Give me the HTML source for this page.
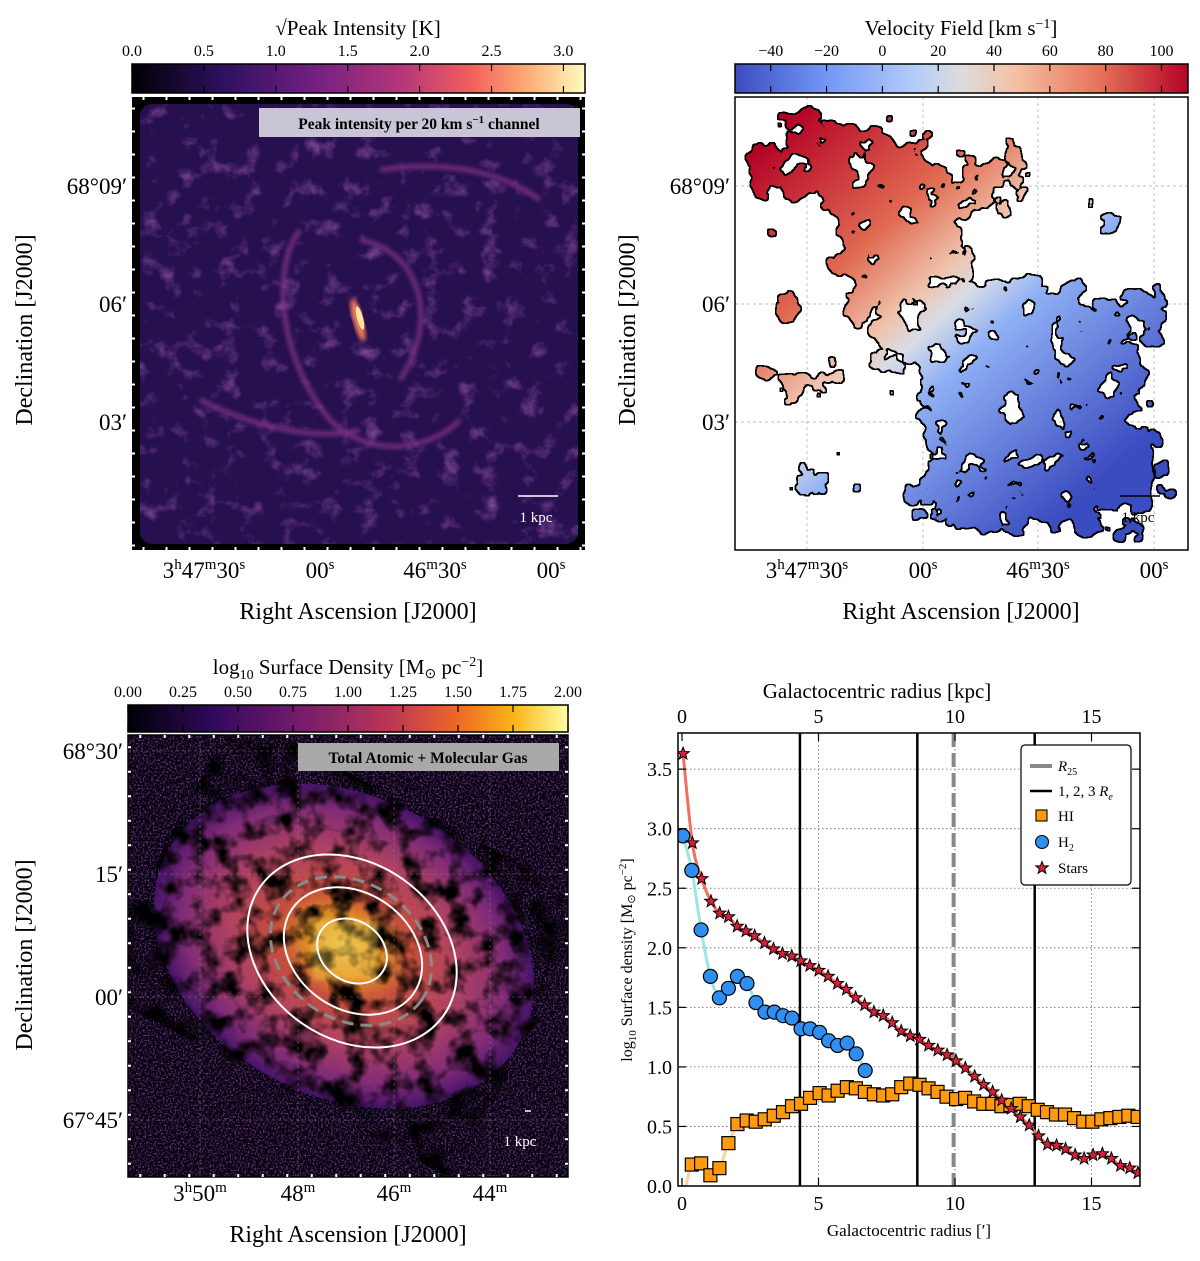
<!DOCTYPE html>
<html><head><meta charset="utf-8">
<style>
html,body{margin:0;padding:0;background:#fff;}
svg{display:block;font-family:"Liberation Serif",serif;}
</style></head>
<body>
<svg id="fig" width="1200" height="1261" viewBox="0 0 1200 1261" xmlns="http://www.w3.org/2000/svg">
<defs>
  <linearGradient id="magma" x1="0" x2="1" y1="0" y2="0">
    <stop offset="0" stop-color="#000004"/><stop offset="0.2" stop-color="#2c115f"/>
    <stop offset="0.4" stop-color="#721f81"/><stop offset="0.6" stop-color="#b73779"/>
    <stop offset="0.75" stop-color="#f1605d"/><stop offset="0.88" stop-color="#feb078"/>
    <stop offset="1" stop-color="#fcfdbf"/>
  </linearGradient>
  <linearGradient id="inferno" x1="0" x2="1" y1="0" y2="0">
    <stop offset="0" stop-color="#000004"/><stop offset="0.2" stop-color="#320a5e"/>
    <stop offset="0.4" stop-color="#781c6d"/><stop offset="0.6" stop-color="#bc3754"/>
    <stop offset="0.75" stop-color="#ed6925"/><stop offset="0.88" stop-color="#fbb61a"/>
    <stop offset="1" stop-color="#fcffa4"/>
  </linearGradient>
  <linearGradient id="coolwarm" x1="0" x2="1" y1="0" y2="0">
    <stop offset="0" stop-color="#3b4cc0"/><stop offset="0.2" stop-color="#7396f5"/>
    <stop offset="0.4" stop-color="#b4cdfa"/><stop offset="0.5" stop-color="#dddcdc"/>
    <stop offset="0.62" stop-color="#f4c0a4"/><stop offset="0.8" stop-color="#e7745b"/>
    <stop offset="1" stop-color="#b40426"/>
  </linearGradient>
  <linearGradient id="velgrad" gradientUnits="userSpaceOnUse" x1="780" y1="130" x2="1100" y2="480">
    <stop offset="0" stop-color="#b40426"/><stop offset="0.3" stop-color="#e16a52"/>
    <stop offset="0.45" stop-color="#f0c2ab"/><stop offset="0.52" stop-color="#d8dce6"/>
    <stop offset="0.62" stop-color="#8fb0f5"/><stop offset="1" stop-color="#3b4cc0"/>
  </linearGradient>
  <radialGradient id="discgrad" cx="0.5" cy="0.5" r="0.5">
    <stop offset="0" stop-color="#fcd050"/><stop offset="0.2" stop-color="#f59a25"/>
    <stop offset="0.35" stop-color="#d8553e"/><stop offset="0.6" stop-color="#c04868"/>
    <stop offset="0.85" stop-color="#8c2f80"/><stop offset="1" stop-color="#4a1470"/>
  </radialGradient>
  <filter id="shape" x="735" y="97" width="453" height="453" filterUnits="userSpaceOnUse">
    <feGaussianBlur in="SourceAlpha" stdDeviation="16" result="ra"/>
    <feTurbulence type="fractalNoise" baseFrequency="0.04" numOctaves="3" seed="5" result="t"/>
    <feColorMatrix in="t" type="matrix" values="0 0 0 0 0 0 0 0 0 0 0 0 0 0 0 1.6 0 0 0 -0.3" result="na"/>
    <feComposite in="na" in2="ra" operator="arithmetic" k1="0" k2="1" k3="1" k4="-0.78" result="sum"/>
    <feComponentTransfer in="sum" result="m"><feFuncA type="discrete" tableValues="0 1"/></feComponentTransfer>
    <feFlood flood-color="#fff"/><feComposite in2="m" operator="in"/>
  </filter>
  <filter id="shapeDil" x="735" y="97" width="453" height="453" filterUnits="userSpaceOnUse">
    <feGaussianBlur in="SourceAlpha" stdDeviation="16" result="ra"/>
    <feTurbulence type="fractalNoise" baseFrequency="0.04" numOctaves="3" seed="5" result="t"/>
    <feColorMatrix in="t" type="matrix" values="0 0 0 0 0 0 0 0 0 0 0 0 0 0 0 1.6 0 0 0 -0.3" result="na"/>
    <feComposite in="na" in2="ra" operator="arithmetic" k1="0" k2="1" k3="1" k4="-0.78" result="sum"/>
    <feComponentTransfer in="sum" result="m0"><feFuncA type="discrete" tableValues="0 1"/></feComponentTransfer>
    <feMorphology in="m0" operator="dilate" radius="1.3" result="m"/>
    <feFlood flood-color="#fff"/><feComposite in2="m" operator="in"/>
  </filter>
  <filter id="filaments" x="0" y="0" width="1" height="1">
    <feTurbulence type="fractalNoise" baseFrequency="0.05" numOctaves="4" seed="11" result="t"/>
    <feColorMatrix in="t" type="matrix" values="0 0 0 0 0.5 0 0 0 0 0.15 0 0 0 0 0.6 2.6 0 0 0 -1.45"/>
  </filter>
  <filter id="holes" x="0" y="0" width="1" height="1">
    <feTurbulence type="fractalNoise" baseFrequency="0.045" numOctaves="3" seed="21" result="t"/>
    <feColorMatrix in="t" type="matrix" values="0 0 0 0 0 0 0 0 0 0 0 0 0 0 0 3.2 0 0 0 -1.35"/>
  </filter>
  <filter id="speck" x="0" y="0" width="1" height="1">
    <feTurbulence type="fractalNoise" baseFrequency="0.6" numOctaves="1" seed="3" result="t"/>
    <feColorMatrix in="t" type="matrix" values="0 0 0 0 0.35 0 0 0 0 0.08 0 0 0 0 0.45 3 0 0 0 -1.4"/>
  </filter>
  <filter id="soft"><feGaussianBlur stdDeviation="2"/></filter>
  <g id="velregions">
      <ellipse cx="830" cy="160" rx="95" ry="50" fill="#fff"/>
      <ellipse cx="900" cy="250" rx="70" ry="120" fill="#fff"/>
      <ellipse cx="1030" cy="380" rx="130" ry="110" fill="#fff"/>
      <ellipse cx="1100" cy="480" rx="80" ry="60" fill="#fff"/>
      <ellipse cx="990" cy="500" rx="90" ry="45" fill="#fff"/>
      <ellipse cx="800" cy="380" rx="55" ry="25" fill="#fff"/>
      <ellipse cx="1000" cy="180" rx="40" ry="35" fill="#fff"/>
      <ellipse cx="790" cy="300" rx="25" ry="20" fill="#fff"/>
      <ellipse cx="820" cy="480" rx="40" ry="25" fill="#fff"/>
      <ellipse cx="1150" cy="300" rx="25" ry="40" fill="#fff"/>
      <ellipse cx="1100" cy="210" rx="25" ry="25" fill="#fff"/>
      <ellipse cx="760" cy="230" rx="18" ry="18" fill="#fff"/>
  </g>
  <mask id="velmask" maskUnits="userSpaceOnUse" x="735" y="97" width="453" height="453">
    <g filter="url(#shape)"><use href="#velregions"/></g>
  </mask>
  <mask id="velmaskDil" maskUnits="userSpaceOnUse" x="735" y="97" width="453" height="453">
    <g filter="url(#shapeDil)"><use href="#velregions"/></g>
  </mask>
  <clipPath id="clip1"><rect x="132" y="97" width="453" height="453"/></clipPath>
  <clipPath id="clip3"><rect x="128" y="735" width="440" height="442"/></clipPath>
  <clipPath id="clip4"><rect x="678" y="733" width="462" height="453"/></clipPath>
</defs>

<!-- ================= PANEL 1 ================= -->
<g>
  <text x="358" y="35" font-size="21" text-anchor="middle">√Peak Intensity [K]</text>
  <rect x="132" y="64" width="453" height="29" fill="url(#magma)" stroke="#000" stroke-width="1.5"/>
  <g id="cb1ticks" font-size="16" text-anchor="middle"></g>
  <rect x="132" y="97" width="453" height="453" fill="#000"/>
  <g clip-path="url(#clip1)">
    <rect x="140" y="104" width="438" height="440" rx="12" fill="#26104f"/>
    <rect x="140" y="104" width="438" height="440" rx="12" filter="url(#filaments)" opacity="0.6"/>
    <g fill="none" stroke="#a3409a" stroke-width="5" opacity="0.6" filter="url(#soft)">
      <path d="M300,230 C270,270 280,360 330,420 C370,460 430,450 460,420"/>
      <path d="M360,240 C420,250 440,320 400,380"/>
      <path d="M200,400 C260,430 320,440 360,430"/>
      <path d="M380,170 C440,160 500,170 540,200"/>
    </g>
    <ellipse cx="358" cy="320" rx="5" ry="22" fill="#f07a5a" transform="rotate(-15 358 320)" filter="url(#soft)"/>
    <ellipse cx="360" cy="318" rx="3" ry="12" fill="#fde8a0" transform="rotate(-15 360 318)"/>
    <rect x="259" y="108" width="321" height="29" fill="#c9c5d5"/>
    <text x="419" y="129" font-size="15.5" font-weight="bold" text-anchor="middle">Peak intensity per 20 km s<tspan dy="-6" font-size="11">−1</tspan><tspan dy="6"> channel</tspan></text>
    <line x1="518" y1="496" x2="558" y2="496" stroke="#fff" stroke-width="1.5"/>
    <text x="536" y="522" font-size="15" fill="#fff" text-anchor="middle">1 kpc</text>
  </g>
  <g id="m1ticks"></g>
  <g font-size="23" text-anchor="end">
    <text x="127" y="194">68°09′</text>
    <text x="127" y="312">06′</text>
    <text x="127" y="430">03′</text>
  </g>
  <g font-size="23" text-anchor="middle">
    <text x="204" y="578">3<tspan font-size="15" dy="-9">h</tspan><tspan dy="9">47</tspan><tspan font-size="15" dy="-9">m</tspan><tspan dy="9">30</tspan><tspan font-size="15" dy="-9">s</tspan></text>
    <text x="320" y="578">00<tspan font-size="15" dy="-9">s</tspan></text>
    <text x="435" y="578">46<tspan font-size="15" dy="-9">m</tspan><tspan dy="9">30</tspan><tspan font-size="15" dy="-9">s</tspan></text>
    <text x="551" y="578">00<tspan font-size="15" dy="-9">s</tspan></text>
  </g>
  <text x="358" y="619" font-size="24" text-anchor="middle">Right Ascension [J2000]</text>
  <text transform="translate(32 330) rotate(-90)" font-size="24" text-anchor="middle">Declination [J2000]</text>
</g>

<!-- ================= PANEL 2 ================= -->
<g>
  <text x="961" y="35" font-size="21" text-anchor="middle">Velocity Field [km s<tspan dy="-7" font-size="14">−1</tspan><tspan dy="7">]</tspan></text>
  <rect x="735" y="64" width="453" height="29" fill="url(#coolwarm)" stroke="#000" stroke-width="1.5"/>
  <g id="cb2ticks" font-size="16" text-anchor="middle"></g>
  <rect x="735" y="97" width="453" height="453" fill="#fff"/>
  <g id="velgrid" stroke="#aaa" stroke-width="0.7" stroke-dasharray="3,3"></g>
  <g>
    <rect x="735" y="97" width="453" height="453" fill="#000" mask="url(#velmaskDil)"/>
    <rect x="735" y="97" width="453" height="453" fill="url(#velgrad)" mask="url(#velmask)"/>
  </g>
  <line x1="1120" y1="496" x2="1160" y2="496" stroke="#000" stroke-width="1.5"/>
  <text x="1138" y="522" font-size="15" text-anchor="middle">1 kpc</text>
  <rect x="735" y="97" width="453" height="453" fill="none" stroke="#000" stroke-width="1.5"/>
  <g font-size="23" text-anchor="end">
    <text x="730" y="194">68°09′</text>
    <text x="730" y="312">06′</text>
    <text x="730" y="430">03′</text>
  </g>
  <g font-size="23" text-anchor="middle">
    <text x="807" y="578">3<tspan font-size="15" dy="-9">h</tspan><tspan dy="9">47</tspan><tspan font-size="15" dy="-9">m</tspan><tspan dy="9">30</tspan><tspan font-size="15" dy="-9">s</tspan></text>
    <text x="923" y="578">00<tspan font-size="15" dy="-9">s</tspan></text>
    <text x="1038" y="578">46<tspan font-size="15" dy="-9">m</tspan><tspan dy="9">30</tspan><tspan font-size="15" dy="-9">s</tspan></text>
    <text x="1154" y="578">00<tspan font-size="15" dy="-9">s</tspan></text>
  </g>
  <text x="961" y="619" font-size="24" text-anchor="middle">Right Ascension [J2000]</text>
  <text transform="translate(635 330) rotate(-90)" font-size="24" text-anchor="middle">Declination [J2000]</text>
</g>

<!-- ================= PANEL 3 ================= -->
<g>
  <text x="348" y="674" font-size="21" text-anchor="middle">log<tspan font-size="14" dy="5">10</tspan><tspan dy="-5"> Surface Density [M</tspan><tspan font-size="14" dy="4">⊙</tspan><tspan dy="-4"> pc</tspan><tspan font-size="14" dy="-8">−2</tspan><tspan dy="8">]</tspan></text>
  <rect x="128" y="705" width="440" height="27" fill="url(#inferno)" stroke="#000" stroke-width="1.5"/>
  <g id="cb3ticks" font-size="16" text-anchor="middle"></g>
  <g clip-path="url(#clip3)">
    <rect x="128" y="735" width="440" height="442" fill="#05010f"/>
    <rect x="128" y="735" width="440" height="442" filter="url(#speck)" opacity="0.8"/>
    <ellipse cx="344" cy="946" rx="200" ry="150" fill="url(#discgrad)" transform="rotate(28 344 946)" opacity="0.9"/>
    <g transform="rotate(28 344 946)">
      <ellipse cx="344" cy="946" rx="205" ry="155" filter="url(#holes)"/>
    </g>
    <rect x="312" y="920" width="66" height="60" fill="#fcd858" opacity="0.35" filter="url(#soft)"/>
    <g id="gasgrid" stroke="#888" stroke-width="0.6" stroke-dasharray="3,3" opacity="0.8"></g>
    <ellipse cx="352" cy="951" rx="112" ry="88" fill="none" stroke="#fff" stroke-width="2" transform="rotate(35 352 951)"/>
    <ellipse cx="351" cy="951" rx="86" ry="68" fill="none" stroke="#8a8a8a" stroke-width="3" stroke-dasharray="12,7" transform="rotate(35 351 951)"/>
    <ellipse cx="353" cy="951" rx="74" ry="58" fill="none" stroke="#fff" stroke-width="2" transform="rotate(35 353 951)"/>
    <ellipse cx="352" cy="951" rx="37" ry="30" fill="none" stroke="#fff" stroke-width="2" transform="rotate(35 352 951)"/>
    <rect x="298" y="743" width="261" height="28" fill="#a9a9a9"/>
    <text x="428" y="763" font-size="15.5" font-weight="bold" text-anchor="middle">Total Atomic + Molecular Gas</text>
    <line x1="525" y1="1111" x2="531" y2="1111" stroke="#fff" stroke-width="1.5"/>
    <text x="520" y="1146" font-size="15" fill="#fff" text-anchor="middle">1 kpc</text>
  </g>
  <rect x="128" y="735" width="440" height="442" fill="none" stroke="#000" stroke-width="1.5"/>
  <g id="m3ticks"></g>
  <g font-size="23" text-anchor="end">
    <text x="123" y="759">68°30′</text>
    <text x="123" y="882">15′</text>
    <text x="123" y="1005">00′</text>
    <text x="123" y="1128">67°45′</text>
  </g>
  <g font-size="23" text-anchor="middle">
    <text x="200" y="1201">3<tspan font-size="15" dy="-9">h</tspan><tspan dy="9">50</tspan><tspan font-size="15" dy="-9">m</tspan></text>
    <text x="298" y="1201">48<tspan font-size="15" dy="-9">m</tspan></text>
    <text x="394" y="1201">46<tspan font-size="15" dy="-9">m</tspan></text>
    <text x="490" y="1201">44<tspan font-size="15" dy="-9">m</tspan></text>
  </g>
  <text x="348" y="1242" font-size="24" text-anchor="middle">Right Ascension [J2000]</text>
  <text transform="translate(32 955) rotate(-90)" font-size="24" text-anchor="middle">Declination [J2000]</text>
</g>

<!-- ================= PANEL 4 (chart) ================= -->
<g id="chart">
  <g id="grid4"></g>
  <g id="vlines" clip-path="url(#clip4)"></g>
  <g id="series" clip-path="url(#clip4)"></g>
  <rect x="678" y="733" width="462" height="453" fill="none" stroke="#000" stroke-width="1.5"/>
  <g id="axes4"></g>
  <g id="legend"></g>
  <text x="877" y="698" font-size="21" text-anchor="middle">Galactocentric radius [kpc]</text>
  <text x="909" y="1236" font-size="17" text-anchor="middle">Galactocentric radius [′]</text>
  <text transform="translate(632 960) rotate(-90)" font-size="16" text-anchor="middle">log<tspan font-size="11" dy="4">10</tspan><tspan dy="-4"> Surface density [M</tspan><tspan font-size="11" dy="3">⊙</tspan><tspan dy="-3"> pc</tspan><tspan font-size="11" dy="-6">−2</tspan><tspan dy="6">]</tspan></text>
</g>
</svg>

<script>
// ---- chart data ----
const starR = [0.04,0.38,0.72,1.06,1.38,1.70,2.02,2.34,2.66,3.02,3.35,3.68,4.02,4.35,4.68,5.01,5.35,5.69,6.02,6.36,6.69,7.03,7.37,7.70,8.03,8.36,8.70,9.03,9.37,9.71,10.04,10.38,10.72,11.05,11.38,11.71,12.06,12.39,12.72,13.06,13.39,13.72,14.05,14.40,14.73,15.06,15.40,15.73,16.06,16.40,16.70];
const starSigma = [3.63,2.88,2.58,2.39,2.29,2.26,2.18,2.14,2.10,2.04,1.99,1.95,1.93,1.89,1.85,1.81,1.76,1.70,1.65,1.58,1.52,1.46,1.43,1.37,1.30,1.26,1.23,1.18,1.14,1.10,1.05,0.99,0.92,0.85,0.79,0.72,0.65,0.58,0.51,0.42,0.35,0.34,0.31,0.26,0.23,0.26,0.27,0.23,0.17,0.15,0.11];
const h2R = [0.03,0.36,0.70,1.04,1.37,1.70,2.03,2.38,2.71,3.04,3.38,3.70,4.03,4.36,4.69,5.04,5.37,5.70,6.05,6.38,6.71];
const h2Sigma = [2.94,2.65,2.15,1.76,1.58,1.66,1.76,1.70,1.54,1.46,1.46,1.43,1.41,1.32,1.32,1.29,1.22,1.18,1.20,1.11,0.97];
const hiR = [0.36,0.70,1.04,1.37,1.70,2.03,2.37,2.70,3.03,3.36,3.70,4.03,4.36,4.69,5.04,5.37,5.70,6.04,6.37,6.70,7.03,7.37,7.70,8.03,8.36,8.70,9.03,9.36,9.69,10.04,10.37,10.70,11.04,11.37,11.70,12.03,12.37,12.70,13.03,13.37,13.70,14.03,14.36,14.70,15.03,15.36,15.69,16.02,16.35,16.69];
const hiSigma = [0.18,0.19,0.09,0.15,0.36,0.52,0.55,0.54,0.56,0.59,0.62,0.67,0.69,0.74,0.78,0.76,0.80,0.83,0.82,0.79,0.77,0.76,0.77,0.83,0.86,0.85,0.82,0.79,0.75,0.73,0.74,0.71,0.69,0.69,0.67,0.68,0.69,0.67,0.64,0.62,0.60,0.60,0.57,0.54,0.54,0.56,0.57,0.58,0.59,0.58];
const reLines = [4.32, 8.62, 12.92];
const r25Line = [9.95];
const xTicks = [0,5,10,15];
const xTickLabels = ["0","5","10","15"];
const kpcTickLabels = ["0","5","10","15"];
const yTicks = [0,0.5,1,1.5,2,2.5,3,3.5];
const yTickLabels = ["0.0","0.5","1.0","1.5","2.0","2.5","3.0","3.5"];

const NS = "http://www.w3.org/2000/svg";
function mk(tag, attrs, parent){ const e=document.createElementNS(NS,tag); for(const k in attrs) e.setAttribute(k,attrs[k]); if(parent) parent.appendChild(e); return e; }
const X = v => 682 + v*27.3;
const Y = v => 1186 - v*119.1;

const grid = document.getElementById('grid4');
const axes = document.getElementById('axes4');
xTicks.forEach((t,i)=>{
  if(t>0){ const g=mk('line',{x1:X(t),x2:X(t),y1:733,y2:1186,stroke:'#666','stroke-width':0.8,'stroke-dasharray':'1.5,2.5'},grid);
      }
  mk('line',{x1:X(t),x2:X(t),y1:1186,y2:1178,stroke:'#000','stroke-width':1.2},axes);
  mk('line',{x1:X(t),x2:X(t),y1:733,y2:741,stroke:'#000','stroke-width':1.2},axes);
  const tl=mk('text',{x:X(t),y:1210,'font-size':20,'text-anchor':'middle'},axes); tl.textContent=xTickLabels[i];
   
  const tt=mk('text',{x:X(t),y:723,'font-size':20,'text-anchor':'middle'},axes); tt.textContent=kpcTickLabels[i];
   
});
yTicks.forEach((t,i)=>{
  if(t>0){ const g=mk('line',{x1:678,x2:1140,y1:Y(t),y2:Y(t),stroke:'#666','stroke-width':0.8,'stroke-dasharray':'1.5,2.5'},grid);
      }
  mk('line',{x1:678,x2:686,y1:Y(t),y2:Y(t),stroke:'#000','stroke-width':1.2},axes);
  mk('line',{x1:1132,x2:1140,y1:Y(t),y2:Y(t),stroke:'#000','stroke-width':1.2},axes);
  const tl=mk('text',{x:672,y:Y(t)+7,'font-size':20,'text-anchor':'end'},axes); tl.textContent=yTickLabels[i];
   
});

const vl = document.getElementById('vlines');
reLines.forEach(r=>{ const l=mk('line',{x1:X(r),x2:X(r),y1:733,y2:1186,stroke:'#000','stroke-width':2.5},vl);
    });
r25Line.forEach(r=>{ const l=mk('line',{x1:X(r),x2:X(r),y1:733,y2:1186,stroke:'#888','stroke-width':4,'stroke-dasharray':'14,6'},vl);
    });

const S = document.getElementById('series');
function smooth(xs, ys){
  const p = xs.map((x,i)=>[X(x),Y(ys[i])]);
  let d = 'M'+p[0][0]+','+p[0][1];
  for(let i=0;i<p.length-1;i++){
    const p0=p[Math.max(0,i-1)], p1=p[i], p2=p[i+1], p3=p[Math.min(p.length-1,i+2)];
    const c1=[p1[0]+(p2[0]-p0[0])/6, p1[1]+(p2[1]-p0[1])/6];
    const c2=[p2[0]-(p3[0]-p1[0])/6, p2[1]-(p3[1]-p1[1])/6];
    d+=' C'+c1[0]+','+c1[1]+' '+c2[0]+','+c2[1]+' '+p2[0]+','+p2[1];
  }
  return d;
}
const hiFitR = [0.15].concat(hiR.slice(0,6));
const hiFitS = [0].concat(hiSigma.slice(0,6));
const l1=mk('path',{d:smooth(hiFitR,hiFitS),fill:'none',stroke:'#fdd0a0','stroke-width':3},S);
 
const l2=mk('path',{d:smooth(h2R,h2Sigma),fill:'none',stroke:'#9ee4e4','stroke-width':3},S);
 
const l3=mk('path',{d:smooth(starR,starSigma),fill:'none',stroke:'#f07060','stroke-width':3},S);
 

hiR.forEach((r,i)=>{ const m=mk('rect',{x:X(r)-6.5,y:Y(hiSigma[i])-6.5,width:13,height:13,fill:'#ff9a0e',stroke:'#000','stroke-width':1.2},S);
    });
h2R.forEach((r,i)=>{ const m=mk('circle',{cx:X(r),cy:Y(h2Sigma[i]),r:7,fill:'#2e8ff0',stroke:'#000','stroke-width':1.2},S);
    });
function starPath(cx,cy,R){ let d=''; for(let k=0;k<10;k++){ const rr=k%2?R*0.42:R; const a=-Math.PI/2+k*Math.PI/5; d+=(k?'L':'M')+(cx+rr*Math.cos(a)).toFixed(2)+','+(cy+rr*Math.sin(a)).toFixed(2);} return d+'Z'; }
starR.forEach((r,i)=>{ const m=mk('path',{d:starPath(X(r),Y(starSigma[i]),6.5),fill:'#d8203a',stroke:'#000','stroke-width':1},S);
    });

// legend
const L = document.getElementById('legend');
mk('rect',{x:1021,y:745,width:110,height:140,rx:4,fill:'#fff',stroke:'#000','stroke-width':1.2},L);
mk('line',{x1:1030,x2:1052,y1:766,y2:766,stroke:'#888','stroke-width':4},L);
mk('line',{x1:1030,x2:1052,y1:791,y2:791,stroke:'#000','stroke-width':2.5},L);
mk('rect',{x:1036,y:810,width:11,height:11,fill:'#ff9a0e',stroke:'#000','stroke-width':1.1},L);
mk('circle',{cx:1042,cy:842,r:6.5,fill:'#2e8ff0',stroke:'#000','stroke-width':1.1},L);
mk('path',{d:starPath(1042,868,6.5),fill:'#d8203a',stroke:'#000','stroke-width':1},L);
const lt = [
 ['<tspan font-style="italic">R</tspan><tspan font-size="10" dy="4">25</tspan>',771,'legend-entry-r25'],
 ['1, 2, 3 <tspan font-style="italic">R</tspan><tspan font-size="10" dy="4" font-style="italic">e</tspan>',796,'legend-entry-re'],
 ['HI',821,'legend-entry-hi'],
 ['H<tspan font-size="10" dy="4">2</tspan>',847,'legend-entry-h2'],
 ['Stars',873,'legend-entry-stars']];
lt.forEach(a=>{ const t=mk('text',{x:1058,y:a[1],'font-size':15},L); t.innerHTML=a[0];
    });

// ---- colorbar ticks ----
function cbTicks(id,x0,w,y,h,vals,vmin,vmax,labels){
  const g=document.getElementById(id);
  vals.forEach((v,i)=>{ const x=x0+(v-vmin)/(vmax-vmin)*w;
    mk('line',{x1:x,x2:x,y1:y,y2:y+7,stroke:'#000','stroke-width':1.2},g);
    mk('line',{x1:x,x2:x,y1:y+h-7,y2:y+h,stroke:'#000','stroke-width':1.2},g);
    const t=mk('text',{x:x,y:y-8},g); t.textContent=labels[i];
      });
}
const cb1Vals=[0,0.5,1,1.5,2,2.5,3]; const cb1Labels=["0.0","0.5","1.0","1.5","2.0","2.5","3.0"];
cbTicks('cb1ticks',132,453,64,29,cb1Vals,0,3.15,cb1Labels);
const cb2Vals=[-40,-20,0,20,40,60,80,100]; const cb2Labels=["−40","−20","0","20","40","60","80","100"];
cbTicks('cb2ticks',735,453,64,29,cb2Vals,-52.8,109.5,cb2Labels);
const cb3Vals=[0,0.25,0.5,0.75,1,1.25,1.5,1.75,2]; const cb3Labels=["0.00","0.25","0.50","0.75","1.00","1.25","1.50","1.75","2.00"];
cbTicks('cb3ticks',128,440,705,27,cb3Vals,0,2,cb3Labels);

// ---- map edge ticks (decoration) ----
function edgeTicks(id,x0,y0,w,h,col,step){
  const g=document.getElementById(id);
  for(let x=x0+step/2;x<x0+w;x+=step){ mk('line',{x1:x,x2:x,y1:y0,y2:y0+3,stroke:col,'stroke-width':2},g); mk('line',{x1:x,x2:x,y1:y0+h-3,y2:y0+h,stroke:col,'stroke-width':2},g); }
  for(let y=y0+step/2;y<y0+h;y+=step){ mk('line',{x1:x0,x2:x0+3,y1:y,y2:y,stroke:col,'stroke-width':2},g); mk('line',{x1:x0+w-3,x2:x0+w,y1:y,y2:y,stroke:col,'stroke-width':2},g); }
}
edgeTicks('m1ticks',132,97,453,453,'#fff',23);
edgeTicks('m3ticks',128,735,440,442,'#fff',24.5);
const vg=document.getElementById('velgrid');
[807,923,1038,1154].forEach(x=>mk('line',{x1:x,x2:x,y1:97,y2:550},vg));
[186,304,422].forEach(y=>mk('line',{x1:735,x2:1188,y1:y,y2:y},vg));
const gg=document.getElementById('gasgrid');
[200,298,394,490].forEach(x=>mk('line',{x1:x,x2:x,y1:735,y2:1177},gg));
[751,874,997,1120].forEach(y=>mk('line',{x1:128,x2:568,y1:y,y2:y},gg));
</script>
</body></html>
